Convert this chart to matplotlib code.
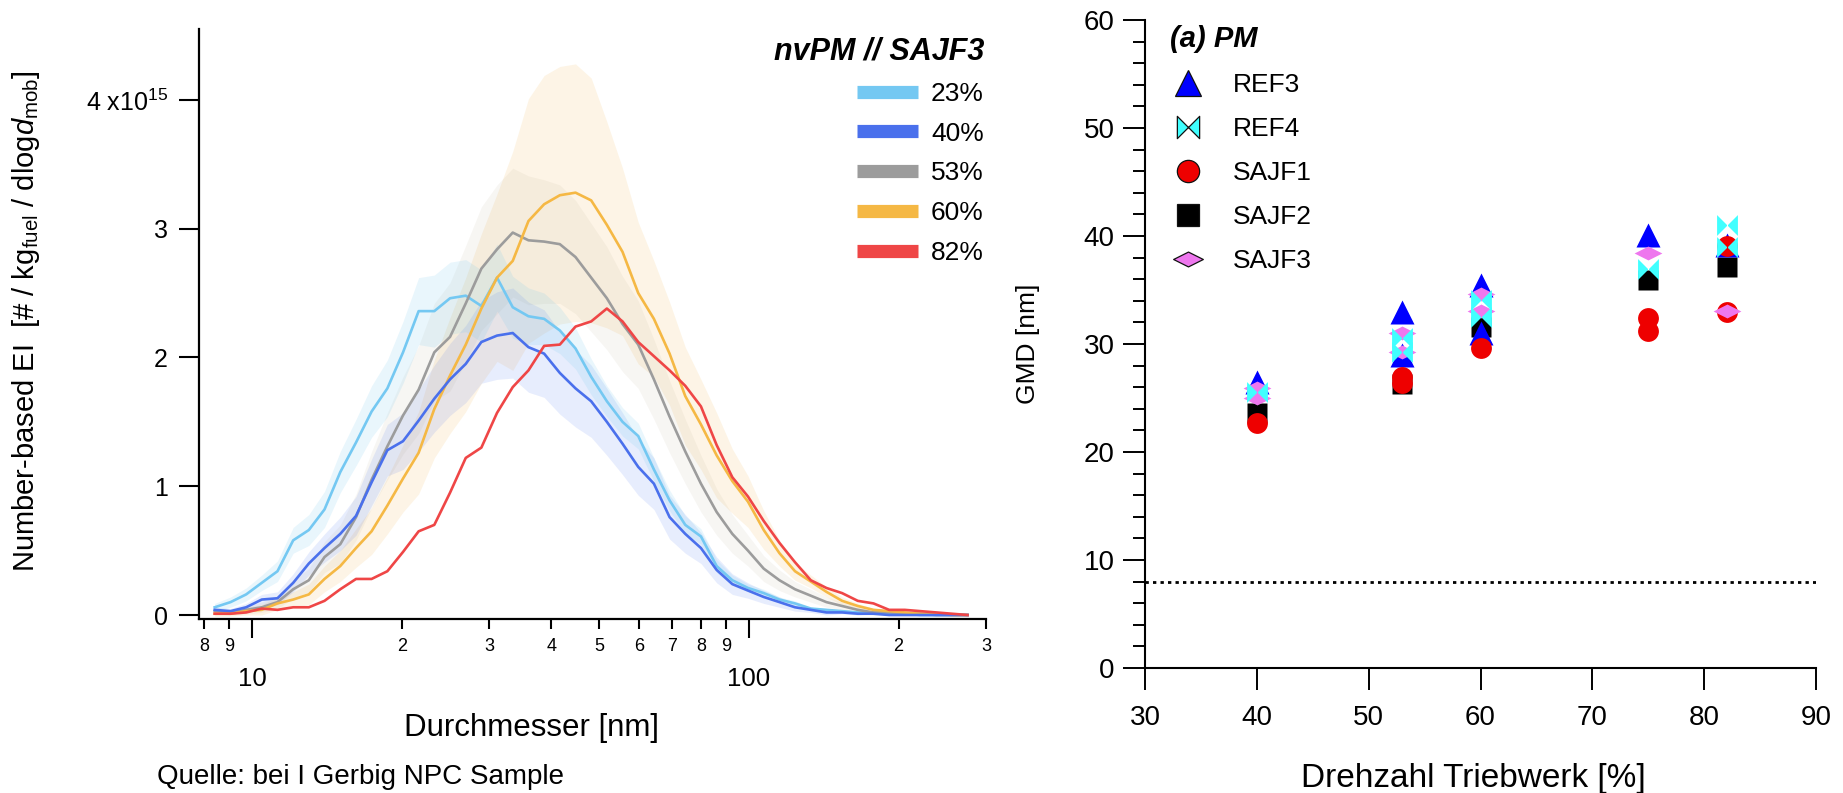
"""Number-based EI size distributions (left) and GMD vs engine speed (right)"""
import numpy as np
import matplotlib
matplotlib.use('Agg')
import matplotlib.pyplot as plt
from matplotlib.lines import Line2D
from matplotlib.path import Path

plt.rcParams['font.family'] = ['Liberation Sans', 'DejaVu Sans']
plt.rcParams['mathtext.fontset'] = 'custom'
plt.rcParams['mathtext.rm'] = 'Liberation Sans'
plt.rcParams['mathtext.it'] = 'Liberation Sans:italic'
plt.rcParams['mathtext.bf'] = 'Liberation Sans:bold'

# ---- left panel: size distributions (units of 1e15) ----
diam = [8.41, 9.05, 9.73, 10.46, 11.25, 12.10, 13.01, 13.99, 15.05, 16.19,
        17.40, 18.72, 20.13, 21.64, 23.27, 25.03, 26.92, 28.94, 31.12, 33.47,
        36.00, 38.71, 41.63, 44.77, 48.14, 51.77, 55.67, 59.87, 64.38, 69.23,
        74.45, 80.06, 86.10, 92.59, 99.56, 107.1, 115.2, 123.8, 133.2, 143.2,
        154.0, 165.6, 178.1, 191.5, 205.9, 221.4, 238.2, 256.1, 275.4]

ei_23 = [0.06, 0.10, 0.16, 0.25, 0.34, 0.58, 0.66, 0.82, 1.11, 1.34,
         1.58, 1.76, 2.04, 2.36, 2.36, 2.46, 2.48, 2.40, 2.62, 2.39,
         2.32, 2.30, 2.21, 2.07, 1.85, 1.66, 1.50, 1.39, 1.13, 0.89,
         0.70, 0.61, 0.38, 0.27, 0.21, 0.17, 0.12, 0.09, 0.05, 0.04,
         0.03, 0.02, 0.02, 0.01, 0.01, 0.0, 0.0, 0.0, 0.0]
ei_40 = [0.04, 0.03, 0.06, 0.12, 0.13, 0.25, 0.40, 0.52, 0.63, 0.77,
         1.03, 1.28, 1.35, 1.51, 1.68, 1.83, 1.95, 2.12, 2.17, 2.19,
         2.08, 2.03, 1.88, 1.76, 1.66, 1.50, 1.33, 1.15, 1.02, 0.76,
         0.63, 0.52, 0.35, 0.24, 0.19, 0.14, 0.10, 0.06, 0.04, 0.02,
         0.02, 0.01, 0.01, 0.0, 0.0, 0.0, 0.0, 0.0, 0.0]
ei_53 = [0.03, 0.02, 0.04, 0.06, 0.10, 0.20, 0.27, 0.45, 0.55, 0.76,
         1.05, 1.31, 1.55, 1.75, 2.04, 2.16, 2.42, 2.69, 2.84, 2.97,
         2.91, 2.90, 2.88, 2.78, 2.62, 2.46, 2.26, 2.10, 1.83, 1.54,
         1.27, 1.02, 0.80, 0.63, 0.50, 0.36, 0.27, 0.20, 0.15, 0.10,
         0.07, 0.04, 0.02, 0.02, 0.01, 0.01, 0.0, 0.0, 0.0]
ei_60 = [0.01, 0.01, 0.03, 0.04, 0.09, 0.12, 0.16, 0.28, 0.38, 0.52,
         0.65, 0.85, 1.06, 1.26, 1.60, 1.86, 2.10, 2.38, 2.62, 2.75,
         3.06, 3.19, 3.26, 3.28, 3.22, 3.03, 2.82, 2.50, 2.30, 2.03,
         1.70, 1.48, 1.24, 1.04, 0.88, 0.66, 0.48, 0.34, 0.26, 0.18,
         0.11, 0.07, 0.04, 0.03, 0.02, 0.01, 0.01, 0.0, 0.0]
ei_82 = [0.01, 0.01, 0.02, 0.05, 0.04, 0.06, 0.06, 0.11, 0.20, 0.28,
         0.28, 0.34, 0.49, 0.65, 0.70, 0.95, 1.22, 1.30, 1.57, 1.77,
         1.90, 2.09, 2.10, 2.24, 2.28, 2.38, 2.28, 2.12, 2.01, 1.90,
         1.78, 1.62, 1.32, 1.07, 0.92, 0.73, 0.56, 0.41, 0.27, 0.21,
         0.17, 0.11, 0.09, 0.04, 0.04, 0.03, 0.02, 0.01, 0.0]

# spread of the shaded bands
sd_23 = [0.03, 0.04, 0.05, 0.06, 0.08, 0.10, 0.12, 0.14, 0.16, 0.18,
         0.20, 0.22, 0.24, 0.26, 0.28, 0.28, 0.28, 0.28, 0.26, 0.24,
         0.22, 0.20, 0.18, 0.16, 0.14, 0.12, 0.11, 0.10, 0.09, 0.08,
         0.07, 0.06, 0.05, 0.04, 0.03, 0.03, 0.02, 0.02, 0.01, 0.01,
         0.01, 0.01, 0.0, 0.0, 0.0, 0.0, 0.0, 0.0, 0.0]
sd_40 = [0.02, 0.02, 0.03, 0.04, 0.05, 0.07, 0.09, 0.11, 0.13, 0.15,
         0.18, 0.20, 0.22, 0.24, 0.26, 0.28, 0.30, 0.32, 0.34, 0.35,
         0.35, 0.34, 0.32, 0.30, 0.28, 0.26, 0.24, 0.22, 0.20, 0.17,
         0.15, 0.12, 0.10, 0.08, 0.06, 0.05, 0.04, 0.03, 0.02, 0.02,
         0.01, 0.01, 0.0, 0.0, 0.0, 0.0, 0.0, 0.0, 0.0]
sd_53 = [0.02, 0.02, 0.03, 0.04, 0.05, 0.07, 0.09, 0.12, 0.15, 0.18,
         0.22, 0.26, 0.30, 0.34, 0.38, 0.42, 0.45, 0.48, 0.50, 0.50,
         0.50, 0.48, 0.46, 0.44, 0.42, 0.40, 0.37, 0.34, 0.31, 0.28,
         0.25, 0.22, 0.18, 0.15, 0.12, 0.10, 0.08, 0.06, 0.05, 0.04,
         0.03, 0.02, 0.02, 0.01, 0.01, 0.0, 0.0, 0.0, 0.0]
sd_60 = [0.02, 0.02, 0.03, 0.04, 0.05, 0.06, 0.08, 0.10, 0.12, 0.15,
         0.18, 0.22, 0.26, 0.32, 0.38, 0.45, 0.52, 0.58, 0.65, 0.85,
         0.95, 1.00, 1.00, 1.00, 0.95, 0.80, 0.65, 0.55, 0.45, 0.40,
         0.38, 0.35, 0.33, 0.25, 0.20, 0.15, 0.10, 0.07, 0.05, 0.04,
         0.03, 0.02, 0.01, 0.01, 0.01, 0.0, 0.0, 0.0, 0.0]

pct_labels = ['23%', '40%', '53%', '60%', '82%']
line_colors = ['#74c8f2', '#4a70ec', '#9c9c9c', '#f5b844', '#ef4646']

minor_ticks = [8, 9, 20, 30, 40, 50, 60, 70, 80, 90, 200, 300]
minor_labels = ['8', '9', '2', '3', '4', '5', '6', '7', '8', '9', '2', '3']

# ---- right panel: GMD vs engine speed ----
ref3_x = [40, 53, 53, 60, 60, 75, 82]
ref3_y = [26.5, 33.0, 29.0, 35.5, 31.0, 40.1, 39.2]
ref4_x = [40, 53, 53, 60, 60, 75, 82, 82]
ref4_y = [25.6, 30.6, 29.3, 34.1, 32.5, 36.9, 41.0, 39.0]
sajf1_x = [40, 53, 53, 60, 75, 75, 82, 82]
sajf1_y = [22.7, 26.9, 26.4, 29.6, 32.4, 31.2, 39.1, 33.0]
sajf2_x = [40, 53, 60, 75, 82]
sajf2_y = [23.6, 26.3, 31.6, 35.9, 37.1]
sajf3_x = [40, 40, 53, 53, 60, 60, 75, 82]
sajf3_y = [25.9, 25.0, 31.0, 29.3, 34.6, 33.1, 38.4, 33.1]

# custom marker shapes
bowtie = Path([(-1, 1), (-1, -1), (0, 0), (-1, 1), (1, 1), (1, -1), (0, 0), (1, 1)],
              [Path.MOVETO, Path.LINETO, Path.LINETO, Path.CLOSEPOLY,
               Path.MOVETO, Path.LINETO, Path.LINETO, Path.CLOSEPOLY])
flat_diamond = Path([(-1, 0), (0, 0.5), (1, 0), (0, -0.5), (-1, 0)],
                    [Path.MOVETO, Path.LINETO, Path.LINETO, Path.LINETO, Path.CLOSEPOLY])

W, H = 1843, 793
fig = plt.figure(figsize=(W / 100, H / 100), dpi=100)


def px_axes(left, top, right, bottom):
    return fig.add_axes([left / W, 1 - bottom / H, (right - left) / W, (bottom - top) / H])


# =================== left panel ===================
ax1 = px_axes(199, 29, 986, 619)
series = [ei_23, ei_40, ei_53, ei_60, ei_82]
spreads = {3: (sd_60, 0.17), 2: (sd_53, 0.08), 1: (sd_40, 0.13), 0: (sd_23, 0.15)}
band_colors = {3: '#f5c26b', 2: '#a08e6c', 1: '#4c74f0', 0: '#6cc5ee'}
for i in [3, 2, 1, 0]:
    y = np.array(series[i])
    sd, a = spreads[i]
    sd = np.array(sd)
    ax1.fill_between(diam, y - sd, y + sd, color=band_colors[i], alpha=a, lw=0)

for i in [0, 2, 3, 1, 4]:
    ax1.plot(diam, series[i], color=line_colors[i], lw=1.9)

ax1.set_xscale('log')
ax1.set_xlim(7.82, 300)
ax1.set_ylim(-0.031, 4.551)
ax1.set_xticks([10, 100], labels=['10', '100'])
ax1.set_xticks(minor_ticks, labels=minor_labels, minor=True)
ax1.set_yticks([0, 1, 2, 3, 4], labels=['0', '1', '2', '3', r'4 x10$^{15}$'])
ax1.tick_params(axis='y', which='major', length=14.4, width=1.5, labelsize=18, pad=8)
ax1.tick_params(axis='x', which='major', length=13.7, width=1.5, labelsize=18.5, pad=20.5)
ax1.tick_params(axis='x', which='minor', length=7, width=1.5, labelsize=13, pad=7)
for s in ['top', 'right']:
    ax1.spines[s].set_visible(False)
for s in ['left', 'bottom']:
    ax1.spines[s].set_linewidth(1.6)

ax1.set_ylabel(r'Number-based EI  [# / kg$_{\mathrm{fuel}}$ / dlog$\mathit{d}_{\mathrm{mob}}$]',
               fontsize=21, va='center')
ax1.yaxis.set_label_coords(-0.2204, 0.505)
ax1.set_xlabel('Durchmesser [nm]', fontsize=22.5, va='center')
ax1.xaxis.set_label_coords(0.4219, -0.1847)

handles1 = [Line2D([], [], color=c, lw=9.5, solid_capstyle='butt') for c in line_colors]
ax1.legend(handles1, pct_labels, title='nvPM // SAJF3', loc='upper right',
           bbox_to_anchor=(984 / W, 1 - 36 / H), bbox_transform=fig.transFigure,
           frameon=False, fontsize=19,
           title_fontproperties={'weight': 'bold', 'style': 'italic', 'size': 22},
           handlelength=2.3, handletextpad=0.5, labelspacing=0.6,
           borderpad=0, borderaxespad=0, alignment='right')

# =================== right panel ===================
ax2 = px_axes(1145, 20, 1816, 668)
ax2.axhline(8, color='black', ls=(0, (1.2, 1.5)), lw=2.0, zorder=2)

point_sets = [
    ('SAJF2', sajf2_x, sajf2_y, 's', '#000000', 14.5),
    ('REF3', ref3_x, ref3_y, '^', '#0000ff', 17),
    ('SAJF1', sajf1_x, sajf1_y, 'o', '#ee0000', 15),
    ('SAJF3', sajf3_x, sajf3_y, flat_diamond, '#ee77ee', 20),
    ('REF4', ref4_x, ref4_y, bowtie, '#40ffff', 15),
]
handle_map = {}
for z, (name, xs, ys, mk, col, ms) in enumerate(point_sets):
    ax2.plot(xs, ys, ls='none', marker=mk, ms=ms, mfc=col, mec='none', zorder=3 + z)
    handle_map[name] = Line2D([], [], ls='none', marker=mk, ms=ms * 1.07, mfc=col,
                              mec='#111111', mew=0.9)

ax2.set_xlim(30, 90)
ax2.set_ylim(0, 60)
ax2.set_xticks(np.arange(30, 91, 10))
ax2.set_yticks(np.arange(0, 61, 10))
ax2.set_yticks(np.arange(0, 61, 2), minor=True)
ax2.tick_params(axis='both', which='major', length=15.8, width=1.4, labelsize=20)
ax2.tick_params(axis='x', which='major', pad=11)
ax2.tick_params(axis='y', which='major', pad=6)
ax2.tick_params(axis='y', which='minor', length=8.6, width=1.4)
for s in ['top', 'right']:
    ax2.spines[s].set_visible(False)
for s in ['left', 'bottom']:
    ax2.spines[s].set_linewidth(1.5)

ax2.set_xlabel('Drehzahl Triebwerk [%]', fontsize=24, va='center')
ax2.xaxis.set_label_coords(0.49, -0.1698)
ax2.set_ylabel('GMD [nm]', fontsize=19, va='center')
ax2.yaxis.set_label_coords(-0.1744, 0.50)

legend_order = ['REF3', 'REF4', 'SAJF1', 'SAJF2', 'SAJF3']
ax2.legend([handle_map[n] for n in legend_order], legend_order, title='(a) PM',
           loc='upper left', bbox_to_anchor=(1170 / W, 1 - 25 / H),
           bbox_transform=fig.transFigure, frameon=False, fontsize=19,
           title_fontproperties={'weight': 'bold', 'style': 'italic', 'size': 21},
           handlelength=1.36, handletextpad=1.02, labelspacing=0.76,
           borderpad=0, borderaxespad=0, alignment='left')

# source note at the lower edge
fig.text(157 / W, 3 / H, 'Quelle: bei I Gerbig NPC Sample', fontsize=20, va='bottom')

fig.savefig('out.png', dpi=100)
